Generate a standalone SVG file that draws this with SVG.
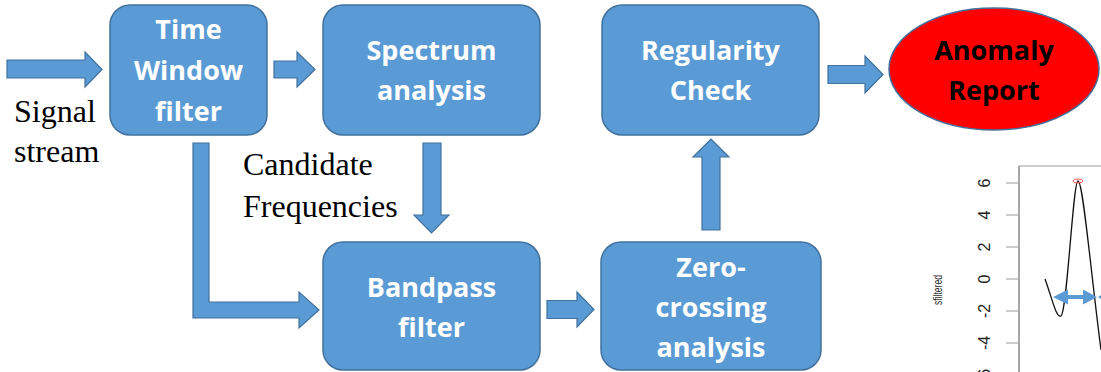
<svg xmlns="http://www.w3.org/2000/svg" width="1101" height="372" viewBox="0 0 1101 372">
<style>
.box{fill:#5B9BD5;stroke:#41719C;stroke-width:1.5}
.arr{fill:#5B9BD5;stroke:#41719C;stroke-width:1.2}
.lbl{font-family:"Open Sans","Liberation Sans",sans-serif;font-weight:700;font-size:27px;fill:#fff;text-anchor:middle}
.dark{fill:#000}
.note{font-family:"Liberation Serif","Times New Roman",serif;font-size:32px;fill:#000}
.tick{font-family:"Liberation Sans",Arial,sans-serif;font-size:16px;fill:#222;text-anchor:middle}
</style>
<rect width="1101" height="372" fill="#fff"/>
<g id="connectors">
<polygon class="arr" points="7,60 85,60 85,52 102,69.5 85,87 85,78 7,78"/>
<polygon class="arr" points="274,61 297,61 297,52 315,69.5 297,87 297,78 274,78"/>
<polygon class="arr" points="828,65.5 865,65.5 865,56 883,74.5 865,93 865,83.5 828,83.5"/>
<polygon class="arr" points="547,300.5 577,300.5 577,292 594,309.5 577,327 577,318.5 547,318.5"/>
<polygon class="arr" points="702,230 702,157 693,157 711,139 729,157 720,157 720,230"/>
<polygon class="arr" points="423,143 441,143 441,215 449,215 431.5,233 414,215 423,215"/>
<polygon class="arr" points="193,143 209,143 209,302 299,302 299,292 319,310 299,328 299,318 193,318"/>
</g>
<g id="time-window">
<rect class="box" x="110" y="5" width="157" height="130" rx="20"/>
<text class="lbl" x="188.5" y="39">Time</text>
<text class="lbl" x="188.5" y="80">Window</text>
<text class="lbl" x="188.5" y="121">filter</text>
</g>
<g id="spectrum">
<rect class="box" x="323" y="5" width="217" height="130" rx="20"/>
<text class="lbl" x="431.5" y="60">Spectrum</text>
<text class="lbl" x="431.5" y="100">analysis</text>
</g>
<g id="regularity">
<rect class="box" x="602" y="5" width="217" height="130" rx="20"/>
<text class="lbl" x="710.5" y="60">Regularity</text>
<text class="lbl" x="710.5" y="100">Check</text>
</g>
<g id="bandpass">
<rect class="box" x="323" y="242" width="217" height="128" rx="20"/>
<text class="lbl" x="431.5" y="297">Bandpass</text>
<text class="lbl" x="431.5" y="337">filter</text>
</g>
<g id="zero-crossing">
<rect class="box" x="601" y="242" width="220" height="128" rx="20"/>
<text class="lbl" x="711" y="277">Zero-</text>
<text class="lbl" x="711" y="317">crossing</text>
<text class="lbl" x="711" y="357">analysis</text>
</g>
<g id="anomaly">
<ellipse cx="994" cy="69" rx="105" ry="61" fill="#FF0000" stroke="#41719C" stroke-width="1.5"/>
<text class="lbl dark" x="994" y="60">Anomaly</text>
<text class="lbl dark" x="994" y="100">Report</text>
</g>
<g id="notes">
<text class="note" x="14" y="122">Signal</text>
<text class="note" x="14" y="162">stream</text>
<text class="note" x="243" y="175">Candidate</text>
<text class="note" x="243" y="217">Frequencies</text>
</g>
<g id="plot">
<line x1="1019" y1="166" x2="1101" y2="166" stroke="#bbb" stroke-width="1.5"/>
<line x1="1019" y1="166" x2="1019" y2="372" stroke="#888" stroke-width="1.5"/>
<g stroke="#aaa" stroke-width="1.2">
<line x1="1006" y1="183" x2="1019" y2="183"/>
<line x1="1006" y1="215" x2="1019" y2="215"/>
<line x1="1006" y1="247" x2="1019" y2="247"/>
<line x1="1006" y1="279" x2="1019" y2="279"/>
<line x1="1006" y1="311" x2="1019" y2="311"/>
<line x1="1006" y1="343" x2="1019" y2="343"/>
</g>
<text class="tick" transform="translate(990,183) rotate(-90)">6</text>
<text class="tick" transform="translate(990,215) rotate(-90)">4</text>
<text class="tick" transform="translate(990,247) rotate(-90)">2</text>
<text class="tick" transform="translate(990,279) rotate(-90)">0</text>
<text class="tick" transform="translate(990,311) rotate(-90)">-2</text>
<text class="tick" transform="translate(990,343) rotate(-90)">-4</text>
<text class="tick" transform="translate(990,376) rotate(-90)">-6</text>
<text transform="translate(942,290) rotate(-90)" font-family="Liberation Sans,Arial,sans-serif" font-size="13" fill="#333" text-anchor="middle" textLength="30" lengthAdjust="spacingAndGlyphs">sfiltered</text>
<path d="M1045,279 C1052,298 1056,318 1061,316 C1067,313 1073,181 1078,181 C1083,181 1090,265 1101,350" fill="none" stroke="#111" stroke-width="1.3"/>
<ellipse cx="1078" cy="181" rx="5" ry="2" fill="none" stroke="#f55" stroke-width="1"/>
<polygon fill="#5B9BD5" points="1053,297 1068,289.5 1068,295 1083,295 1083,289.5 1097,297 1083,304.5 1083,299 1068,299 1068,304.5"/>
<polygon fill="#5B9BD5" points="1098,297 1101,295 1101,299"/>
</g>
</svg>
